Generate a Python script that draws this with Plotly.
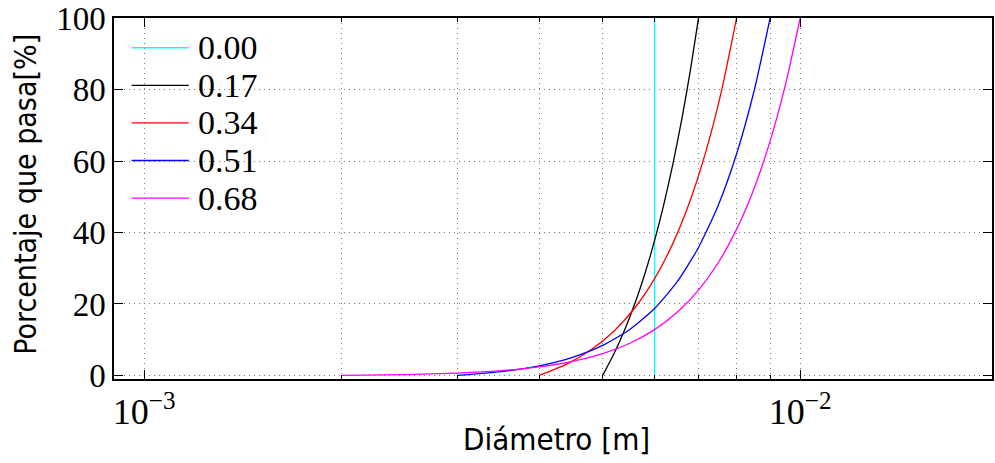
import plotly.graph_objects as go

# Diameters in metres and cumulative percentage passing for each spread value
labels = ["0.00", "0.17", "0.34", "0.51", "0.68"]
colors = ["#00ffff", "#000000", "#ff0000", "#0000ff", "#ff00ff"]

d_000 = [0.006, 0.006]
p_000 = [0.0, 100.0]

d_017 = [0.0050, 0.0052, 0.0054, 0.0056, 0.0058, 0.0060, 0.0062, 0.0064, 0.0066, 0.0068, 0.0070]
p_017 = [0.0, 5.98, 12.69, 20.18, 28.53, 37.78, 48.01, 59.27, 71.65, 85.20, 100.0]

d_034 = [0.0040, 0.0044, 0.0048, 0.0052, 0.0056, 0.0060, 0.0064, 0.0068, 0.0072, 0.0076, 0.0080]
p_034 = [0.0, 3.09, 7.16, 12.37, 18.94, 27.08, 37.02, 49.01, 63.32, 80.21, 100.0]

d_051 = [0.0030, 0.0035, 0.0040, 0.0045, 0.0050, 0.0055, 0.0060, 0.0065, 0.0070, 0.0075, 0.0080, 0.0085, 0.0090]
p_051 = [0.0, 1.07, 2.70, 5.08, 8.40, 12.87, 18.75, 26.30, 35.80, 47.58, 61.96, 79.31, 100.0]

d_068 = [0.0020, 0.0025, 0.0030, 0.0035, 0.0040, 0.0045, 0.0050, 0.0055, 0.0060,
         0.0065, 0.0070, 0.0075, 0.0080, 0.0085, 0.0090, 0.0095, 0.0100]
p_068 = [0.0, 0.23, 0.65, 1.34, 2.40, 3.95, 6.10, 9.01, 12.82,
         17.72, 23.89, 31.53, 40.87, 52.12, 65.56, 81.42, 100.0]

series_d = [d_000, d_017, d_034, d_051, d_068]
series_p = [p_000, p_017, p_034, p_051, p_068]

major_x = [1e-3, 1e-2]
minor_x = [2e-3, 3e-3, 4e-3, 5e-3, 6e-3, 7e-3, 8e-3, 9e-3]
y_ticks = [0, 20, 40, 60, 80, 100]

serif = "Liberation Serif, DejaVu Serif, serif"
sans = "DejaVu Sans Condensed, DejaVu Sans, sans-serif"
grid_dash = "1px,4px"
grid_col = "#7a7a7a"

fig = go.Figure()
for lab, col, xs, ys in zip(labels, colors, series_d, series_p):
    fig.add_trace(go.Scatter(
        x=xs, y=ys, mode="lines", name=lab,
        line=dict(color=col, width=1.3, shape="spline", smoothing=0.6),
        showlegend=False, cliponaxis=True,
    ))

# Hand-placed legend in the upper-left corner of the axes
leg_y0 = 0.9176
leg_dy = 0.1041
for i, (lab, col) in enumerate(zip(labels, colors)):
    yy = leg_y0 - i * leg_dy
    fig.add_shape(type="line", xref="paper", yref="paper",
                  x0=0.0201, x1=0.0852, y0=yy, y1=yy,
                  line=dict(color=col, width=1.3))
    fig.add_annotation(xref="paper", yref="paper", x=0.0932, y=yy,
                       text=lab, showarrow=False, xanchor="left", yanchor="middle",
                       font=dict(family=serif, size=34, color="black"))

axis_common = dict(
    showline=True, linecolor="black", linewidth=1.5, mirror="ticks",
    ticks="inside", tickcolor="black", tickwidth=1,
    showgrid=True, gridcolor=grid_col, griddash=grid_dash, gridwidth=1,
    zeroline=False, ticklabeloverflow="allow",
)

fig.update_xaxes(
    type="log", range=[-3.046, -1.7075],
    tickmode="array", tickvals=major_x,
    ticktext=["10<sup>\u22123</sup>", "10<sup>\u22122</sup>"],
    ticklen=9,
    tickfont=dict(family=serif, size=36, color="black"),
    minor=dict(tickmode="array", tickvals=minor_x, ticks="inside", ticklen=4,
               tickcolor="black", showgrid=True, gridcolor=grid_col, griddash=grid_dash),
    **axis_common,
)
fig.update_yaxes(
    range=[-1, 100.02], tickmode="array", tickvals=y_ticks, ticklen=9,
    tickfont=dict(family=serif, size=33, color="black"),
    **axis_common,
)

fig.add_annotation(xref="paper", yref="paper", x=(558 - 114) / 880, y=(379 - 440) / 364,
                   text="Diámetro [m]", showarrow=False, xanchor="center", yanchor="middle",
                   font=dict(family=sans, size=31, color="black"))
fig.add_annotation(xref="paper", yref="paper", x=(25 - 114) / 880, y=(379 - 193) / 364,
                   text="Porcentaje que pasa[%]", showarrow=False, textangle=-90,
                   xanchor="center", yanchor="middle",
                   font=dict(family=sans, size=30, color="black"))

fig.update_layout(
    width=995, height=463,
    margin=dict(l=114, r=1, t=15, b=84),
    paper_bgcolor="white", plot_bgcolor="white",
    showlegend=False,
)

fig.write_html("out.html")
